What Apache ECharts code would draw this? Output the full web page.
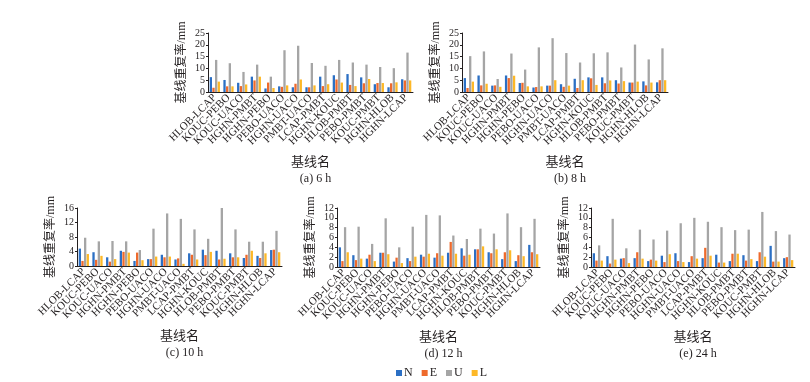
<!DOCTYPE html>
<html>
<head>
<meta charset="utf-8">
<script src="https://cdn.jsdelivr.net/npm/echarts@6/dist/echarts.min.js"></script>
<style>
  html, body { margin: 0; padding: 0; background: #fff; }
  #chart { width: 810px; height: 382px; }
</style>
</head>
<body>
<div id="chart"></div>
<script>
  // 基线名
  const categories = ['HLOB-LCAP', 'KOUC-PEBO', 'KOUC-UACO', 'HGHN-PMBT', 'HGHN-PEBO', 'PEBO-UACO', 'HGHN-UACO',
    'PMBT-UACO', 'LCAP-PMBT', 'HGHN-KOUC', 'HLOB-PMBT', 'PEBO-PMBT', 'KOUC-PMBT', 'HGHN-HLOB', 'HGHN-LCAP']
  const seriesNames = ['N', 'E', 'U', 'L']

  // (a) 6 h
  const n6 = [6.3, 5.1, 3.9, 6.5, 1.5, 2.4, 2.0, 2.0, 6.5, 7.1, 7.6, 6.2, 3.3, 2.0, 5.4]
  const e6 = [1.8, 2.4, 2.5, 4.9, 4.0, 2.2, 3.5, 2.0, 2.5, 5.3, 3.0, 3.7, 3.8, 3.7, 4.9]
  const u6 = [13.6, 12.2, 8.5, 11.6, 6.5, 17.7, 19.6, 12.3, 11.1, 13.6, 12.5, 11.6, 10.6, 10.1, 16.7]
  const l6 = [4.4, 2.4, 3.2, 6.5, 1.7, 2.8, 5.3, 2.8, 3.3, 4.0, 2.5, 5.5, 3.8, 4.1, 4.9]
  // (b) 8 h
  const n8 = [5.9, 7.0, 2.7, 7.0, 3.8, 1.9, 2.7, 3.3, 5.6, 6.2, 6.2, 5.0, 4.0, 4.5, 4.1]
  const e8 = [1.7, 2.8, 2.8, 5.9, 3.9, 2.1, 2.7, 2.2, 1.7, 5.8, 3.7, 3.6, 4.0, 2.8, 5.0]
  const u8 = [15.2, 17.2, 5.5, 16.3, 9.5, 18.9, 22.8, 16.5, 12.5, 16.4, 16.8, 10.4, 20.1, 13.8, 18.5]
  const l8 = [4.4, 3.5, 2.2, 6.9, 2.4, 2.4, 5.0, 2.7, 5.0, 3.0, 4.9, 4.6, 4.4, 4.0, 5.0]
  // (c) 10 h
  const n10 = [4.8, 3.8, 2.4, 4.2, 1.4, 1.9, 3.1, 1.8, 3.5, 4.5, 4.2, 3.5, 2.2, 2.8, 4.4]
  const e10 = [1.4, 1.7, 1.2, 3.9, 3.7, 1.9, 2.4, 2.1, 3.1, 3.0, 1.8, 2.4, 3.1, 2.2, 4.5]
  const u10 = [7.8, 6.8, 6.9, 6.8, 4.4, 10.3, 14.5, 13.0, 10.1, 7.5, 16.0, 10.1, 6.7, 6.7, 9.7]
  const l10 = [3.3, 2.8, 1.9, 3.7, 1.6, 2.6, 2.6, 0.6, 1.8, 3.9, 2.0, 2.4, 4.2, 3.5, 3.8]
  // (d) 12 h
  const n12 = [4.0, 2.4, 1.7, 2.9, 1.1, 1.8, 2.5, 1.9, 2.9, 3.8, 3.6, 3.0, 1.6, 1.2, 4.5]
  const e12 = [1.2, 1.4, 2.5, 2.9, 1.9, 1.2, 2.1, 2.8, 5.1, 2.3, 3.6, 2.8, 3.0, 2.4, 3.0]
  const u12 = [8.1, 8.2, 4.7, 9.9, 4.0, 8.2, 10.6, 10.5, 6.4, 5.7, 7.8, 6.8, 10.9, 8.1, 9.8]
  const l12 = [3.0, 1.7, 1.2, 2.6, 0.8, 2.1, 2.7, 2.3, 2.7, 2.5, 4.2, 3.6, 3.4, 2.2, 2.6]
  // (e) 24 h
  const n24 = [2.8, 2.2, 1.7, 1.8, 1.2, 2.3, 2.8, 1.0, 1.8, 2.5, 1.2, 2.4, 1.2, 4.3, 1.8]
  const e24 = [1.3, 0.7, 1.8, 3.0, 1.5, 1.0, 1.2, 2.2, 3.9, 0.9, 2.7, 1.3, 3.0, 1.1, 2.0]
  const u24 = [4.4, 9.8, 3.8, 7.6, 5.6, 7.4, 8.9, 10.0, 9.2, 8.1, 7.5, 7.6, 11.2, 7.3, 6.6]
  const l24 = [1.3, 1.5, 0.8, 1.7, 1.3, 2.6, 1.0, 1.7, 2.3, 0.9, 2.7, 1.6, 2.1, 1.1, 1.4]

  const panels = [
    { label: '(a) 6 h', data: [n6, e6, u6, l6], max: 25, interval: 5, grid: { left: 208, top: 33, width: 205, height: 59 } },
    { label: '(b) 8 h', data: [n8, e8, u8, l8], max: 25, interval: 5, grid: { left: 462, top: 33, width: 206, height: 59 } },
    { label: '(c) 10 h', data: [n10, e10, u10, l10], max: 16, interval: 4, grid: { left: 77, top: 208, width: 205, height: 58 } },
    { label: '(d) 12 h', data: [n12, e12, u12, l12], max: 12, interval: 2, grid: { left: 337, top: 208, width: 203, height: 59 } },
    { label: '(e) 24 h', data: [n24, e24, u24, l24], max: 12, interval: 2, grid: { left: 591, top: 208, width: 204, height: 59 } }
  ]

  const colors = ['#2b6fc4', '#ee6a2c', '#a5a5a5', '#fdb827']
  const serif = '"Liberation Serif", "Noto Sans CJK SC", serif'
  const textColor = '#231f20'

  let grid = [], xAxis = [], yAxis = [], series = [], title = []
  panels.forEach((p, i) => {
    grid.push(Object.assign({ containLabel: false }, p.grid))
    xAxis.push({
      type: 'category',
      gridIndex: i,
      data: categories,
      name: '基线名',
      nameLocation: 'middle',
      nameGap: 64,
      nameTextStyle: { fontFamily: serif, fontSize: 13, color: textColor },
      axisLine: { lineStyle: { color: '#231f20', width: 1 } },
      axisTick: { inside: true, length: 3, lineStyle: { color: '#231f20', width: 1.5 } },
      axisLabel: { rotate: 45, interval: 0, margin: 4, fontFamily: serif, fontSize: 11, color: textColor }
    })
    yAxis.push({
      type: 'value',
      gridIndex: i,
      min: 0,
      max: p.max,
      interval: p.interval,
      name: '基线重复率/mm',
      nameLocation: 'middle',
      nameGap: 20,
      nameMoveOverlap: false,
      nameTextStyle: { fontFamily: serif, fontSize: 12, color: textColor },
      splitLine: { show: false },
      axisLine: { show: true, lineStyle: { color: '#231f20', width: 1 } },
      axisTick: { show: true, length: 2, lineStyle: { color: '#231f20' } },
      axisLabel: {
        interval: 0, margin: 3, fontFamily: serif, fontSize: 10, lineHeight: 8, color: textColor,
        showMinLabel: true, showMaxLabel: true, hideOverlap: false
      }
    })
    title.push({
      text: p.label,
      left: p.grid.left + p.grid.width / 2,
      top: p.grid.top + p.grid.height + 76,
      textAlign: 'center',
      textStyle: { fontFamily: serif, fontSize: 12, fontWeight: 'normal', color: textColor }
    })
    p.data.forEach((vals, k) => {
      series.push({
        name: seriesNames[k],
        type: 'bar',
        xAxisIndex: i,
        yAxisIndex: i,
        data: vals,
        barGap: '15%',
        barCategoryGap: '25%',
        itemStyle: { color: colors[k] },
        animation: false
      })
    })
  })

  let chart = echarts.init(document.getElementById('chart'))
  chart.setOption({
    backgroundColor: '#fff',
    color: colors,
    title: title,
    legend: {
      data: seriesNames,
      left: 391,
      top: 362,
      itemWidth: 6,
      itemHeight: 6,
      itemGap: 9,
      icon: 'rect',
      textStyle: { fontFamily: serif, fontSize: 12, color: textColor, padding: [0, 0, 0, -3] }
    },
    grid: grid,
    xAxis: xAxis,
    yAxis: yAxis,
    series: series
  })
</script>
</body>
</html>
